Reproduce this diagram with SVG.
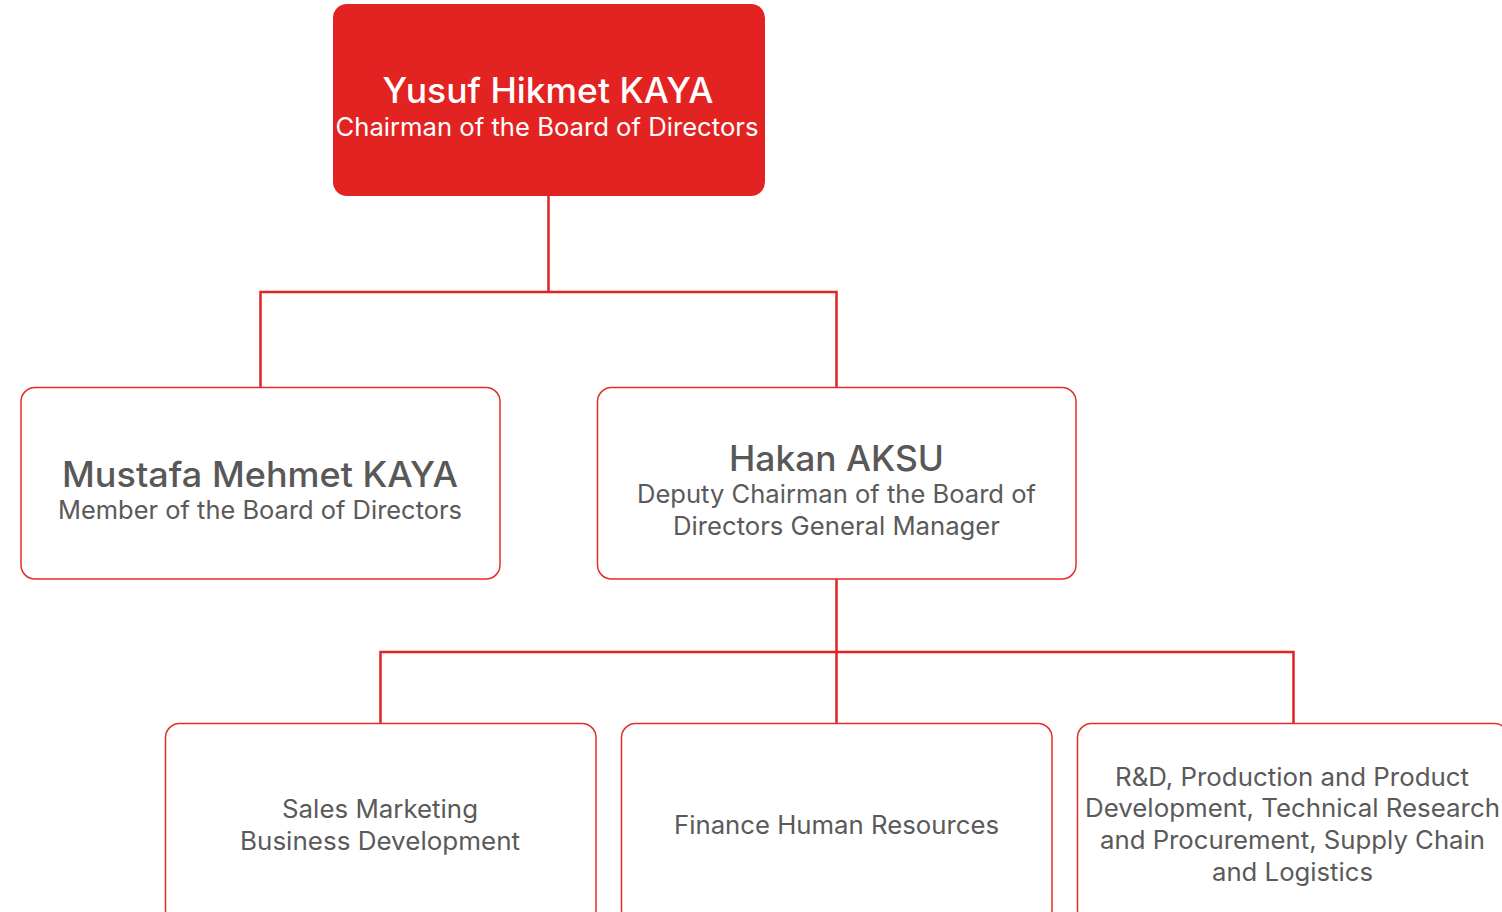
<svg xmlns="http://www.w3.org/2000/svg" width="1502" height="912" viewBox="0 0 1502 912">
<style>
.box{fill:#ffffff;stroke:#e52b2b;stroke-width:1.5}
.top{fill:#e32322}
.name{font-family:Inter,"Noto Sans",sans-serif;font-weight:500;font-size:35px;fill:#585858;text-anchor:middle}
.role{font-family:Inter,"Noto Sans",sans-serif;font-weight:400;font-size:25px;fill:#5a5a5a;text-anchor:middle}
.w{fill:#ffffff}
.conn{fill:none;stroke:#e32322;stroke-width:2.5}
</style>
<rect width="1502" height="912" fill="#ffffff"/>
<g id="connectors">
<path class="conn" d="M548.5 196 V292 M260.5 387 V292 H836.5 V387"/>
<path class="conn" d="M836.5 579 V723 M380.5 723 V652 H1293.5 V723"/>
</g>
<g id="n-yusuf">
<rect class="top" x="333" y="4" width="432" height="192" rx="14"/>
<text class="name w" x="548" y="103" textLength="331" lengthAdjust="spacingAndGlyphs">Yusuf Hikmet KAYA</text>
<text class="role w" x="547" y="136" textLength="423" lengthAdjust="spacingAndGlyphs">Chairman of the Board of Directors</text>
</g>
<g id="n-mustafa">
<rect class="box" x="21" y="387.5" width="479" height="191.5" rx="14"/>
<text class="name" x="260" y="487" textLength="396" lengthAdjust="spacingAndGlyphs">Mustafa Mehmet KAYA</text>
<text class="role" x="260" y="519" textLength="404" lengthAdjust="spacingAndGlyphs">Member of the Board of Directors</text>
</g>
<g id="n-hakan">
<rect class="box" x="597.5" y="387.5" width="478.5" height="191.5" rx="14"/>
<text class="name" x="836.5" y="471" textLength="215" lengthAdjust="spacingAndGlyphs">Hakan AKSU</text>
<text class="role" x="836.5" y="503" textLength="399" lengthAdjust="spacingAndGlyphs">Deputy Chairman of the Board of</text>
<text class="role" x="836.5" y="535" textLength="327" lengthAdjust="spacingAndGlyphs">Directors General Manager</text>
</g>
<g id="n-sales">
<rect class="box" x="165.5" y="723.5" width="430.5" height="200" rx="14"/>
<text class="role" x="380" y="818" textLength="196" lengthAdjust="spacingAndGlyphs">Sales Marketing</text>
<text class="role" x="380" y="850" textLength="280" lengthAdjust="spacingAndGlyphs">Business Development</text>
</g>
<g id="n-finance">
<rect class="box" x="621.5" y="723.5" width="430.5" height="200" rx="14"/>
<text class="role" x="836.5" y="834" textLength="325" lengthAdjust="spacingAndGlyphs">Finance Human Resources</text>
</g>
<g id="n-rnd">
<rect class="box" x="1077.5" y="723.5" width="431" height="200" rx="14"/>
<text class="role" x="1292" y="786" textLength="354" lengthAdjust="spacingAndGlyphs">R&amp;D, Production and Product</text>
<text class="role" x="1292.5" y="817" textLength="415" lengthAdjust="spacingAndGlyphs">Development, Technical Research</text>
<text class="role" x="1292.5" y="849" textLength="385" lengthAdjust="spacingAndGlyphs">and Procurement, Supply Chain</text>
<text class="role" x="1292.5" y="881" textLength="161" lengthAdjust="spacingAndGlyphs">and Logistics</text>
</g>
</svg>
